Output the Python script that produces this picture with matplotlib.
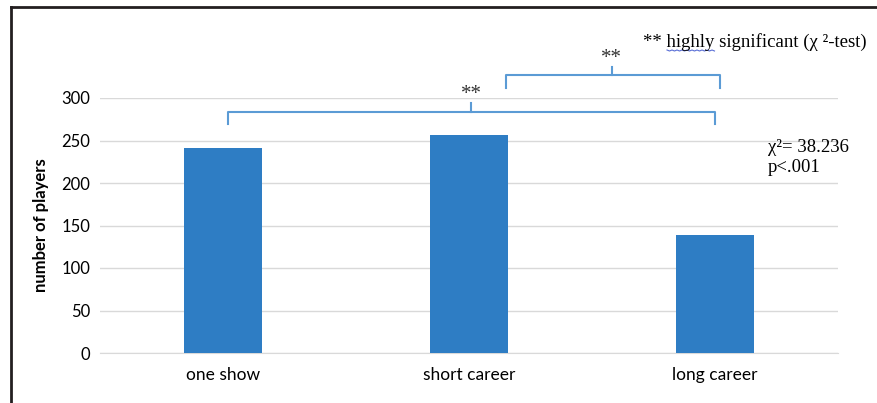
import numpy as np
import matplotlib.pyplot as plt
from matplotlib.lines import Line2D

categories = ['one show', 'short career', 'long career']
players = [241, 256, 139]
y_ticks = [0, 50, 100, 150, 200, 250, 300]

W, H = 877, 403
fig = plt.figure(figsize=(W / 100, H / 100), dpi=100)
ax = fig.add_axes([100 / W, 50 / H, 738 / W, 255 / H])

bar_color = '#2E7DC4'
brace_color = '#5B9BD5'
sans = 'Lato'
serif = 'Liberation Serif'

x = list(range(len(categories)))
ax.bar(x, players, width=0.32, color=bar_color, zorder=3)

ax.set_xlim(-0.5, 2.5)
ax.set_ylim(0, 300)
ax.set_yticks(y_ticks)
ax.set_xticks(x)
ax.set_xticklabels(categories, fontsize=12.5, fontfamily=sans)
for lab in ax.get_yticklabels():
    lab.set_fontfamily(sans)
    lab.set_fontsize(12)
ax.tick_params(length=0, pad=7)
ax.tick_params(axis='x', pad=10)
ax.grid(axis='y', color='#d9d9d9', linewidth=1, zorder=0)
for s in ['top', 'right', 'left']:
    ax.spines[s].set_visible(False)
ax.spines['bottom'].set_color('#d9d9d9')
ax.set_ylabel('number of players', fontsize=12, fontweight='bold',
              fontfamily=sans, labelpad=9)


# significance brackets
def brace(x0, x1, xc, y, drop, rise, label, ty):
    ax.plot([x0, x0, x1, x1], [y - drop, y, y, y - drop], color=brace_color,
            lw=1.5, clip_on=False)
    ax.plot([xc, xc], [y, y + rise], color=brace_color, lw=1.5, clip_on=False)
    ax.text(xc, ty, label, ha='center', va='center', fontsize=15,
            fontfamily=serif, color='#333333')


brace(0.02, 2.0, 1.01, 283, 13, 11, '**', 304)
brace(1.15, 2.02, 1.58, 327, 15, 10, '**', 347)

fig.text(643 / W, 1 - 42 / H, '** highly significant (\u03c7 \u00b2-test)',
         fontsize=13.5, fontfamily=serif, va='center', ha='left')
# spell-check squiggle under "highly"
sx = np.arange(667, 716, 2.5)
sy = 50 + 1.0 * (np.arange(len(sx)) % 2)
fig.add_artist(Line2D(sx / W, 1 - sy / H, color='#5a6fd6', lw=0.8))

fig.text(768 / W, 1 - 148 / H, '\u03c7\u00b2= 38.236', fontsize=13.5,
         fontfamily=serif, va='center', ha='left')
fig.text(768 / W, 1 - 168 / H, 'p<.001', fontsize=13.5,
         fontfamily=serif, va='center', ha='left')

# frame lines
fig.add_artist(Line2D([11 / W, 11 / W], [0, 1 - 7 / H], color='#231f20', lw=2))
fig.add_artist(Line2D([11 / W, 1], [1 - 7 / H, 1 - 7 / H], color='#231f20', lw=2))

fig.savefig('out.png', dpi=100)
